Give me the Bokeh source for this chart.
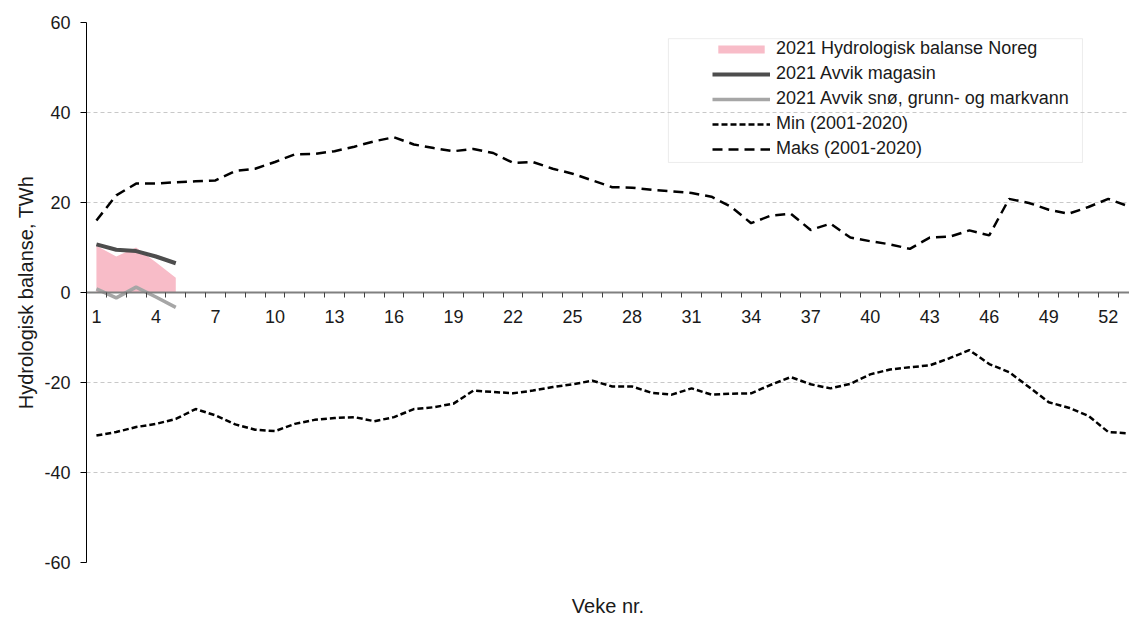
from bokeh.plotting import figure
from bokeh.models import Range1d, FixedTicker, Legend, LegendItem, Title, BoxAnnotation
from bokeh.embed import file_html
from bokeh.resources import INLINE

# ---------------- data ----------------
weeks = list(range(1, 54))
maks = [16.0, 21.6, 24.2, 24.2, 24.5, 24.7, 24.9, 27.0, 27.5, 29.0,
        30.7, 30.8, 31.4, 32.4, 33.6, 34.5, 32.9, 32.1, 31.4, 31.9,
        31.0, 28.8, 29.0, 27.5, 26.4, 24.9, 23.4, 23.3, 22.8, 22.5,
        22.1, 21.3, 19.0, 15.4, 17.1, 17.5, 13.9, 15.3, 12.2, 11.4,
        10.7, 9.7, 12.2, 12.4, 13.8, 12.7, 20.8, 19.9, 18.4, 17.5,
        19.0, 20.8, 19.2]
mins = [-31.8, -31.0, -29.9, -29.2, -28.1, -25.9, -27.3, -29.3, -30.5, -30.8,
        -29.2, -28.3, -27.9, -27.7, -28.6, -27.7, -25.9, -25.5, -24.7, -21.8,
        -22.1, -22.4, -21.8, -21.0, -20.4, -19.6, -20.9, -20.9, -22.3, -22.7,
        -21.3, -22.7, -22.5, -22.4, -20.5, -18.8, -20.4, -21.3, -20.3, -18.2,
        -17.1, -16.6, -16.2, -14.6, -12.8, -15.9, -17.7, -21.0, -24.4, -25.6,
        -27.4, -31.0, -31.3]
weeks_2021 = [1, 2, 3, 4, 5]
balanse_2021 = [10.4, 8.0, 10.0, 6.7, 3.3]
magasin_2021 = [10.7, 9.5, 9.2, 8.0, 6.5]
sno_2021 = [0.8, -1.2, 1.2, -1.0, -3.3]

x_tick_labels = list(range(1, 53, 3))
y_ticks = list(range(-60, 61, 20))

labels = ["2021 Hydrologisk balanse Noreg", "2021 Avvik magasin",
          "2021 Avvik snø, grunn- og markvann", "Min (2001-2020)", "Maks (2001-2020)"]

FONT = "Liberation Sans"

# ---------------- figure ----------------
p = figure(frame_width=1043, frame_height=540,
           x_range=Range1d(0.5, 53.07), y_range=Range1d(-60, 60),
           output_backend="svg", toolbar_location=None, title=None,
           min_border_left=86, min_border_right=0, min_border_top=22,
           min_border_bottom=50)
p.outline_line_color = None
p.background_fill_color = "white"

r_bal = p.varea(x=weeks_2021, y1=0, y2=balanse_2021, fill_color="#F8BCC8")
r_mag = p.line(weeks_2021, magasin_2021, line_color="#4D4D4D", line_width=4)
r_sno = p.line(weeks_2021, sno_2021, line_color="#A6A6A6", line_width=3.5)
r_min = p.line(weeks, mins, line_color="black", line_width=2.5, line_dash="6 3")
r_max = p.line(weeks, maks, line_color="black", line_width=2.5, line_dash="10 6")

# y axis
ya = p.yaxis[0]
ya.ticker = FixedTicker(ticks=y_ticks)
ya.major_label_overrides = {t: str(t) for t in y_ticks}
ya.major_tick_out = 6
ya.major_tick_in = 0
ya.minor_tick_out = 0
ya.minor_tick_in = 0
ya.axis_line_color = "black"
ya.major_tick_line_color = "black"
ya.major_label_text_font = FONT
ya.major_label_text_font_size = "18px"
ya.major_label_text_color = "#1a1a1a"
ya.major_label_standoff = 10
ya.axis_label = "Hydrologisk balanse, TWh"
ya.axis_label_text_font = FONT
ya.axis_label_text_font_size = "20px"
ya.axis_label_text_font_style = "normal"
ya.axis_label_text_color = "#1a1a1a"
ya.axis_label_standoff = 4

# x axis at zero
xa = p.xaxis[0]
xa.fixed_location = 0
xa.ticker = FixedTicker(ticks=x_tick_labels, minor_ticks=[w + 0.5 for w in range(0, 54)])
xa.major_tick_out = 0
xa.major_tick_in = 0
xa.minor_tick_out = 5
xa.minor_tick_in = 0
xa.minor_tick_line_color = "#404040"
xa.axis_line_color = "#808080"
xa.axis_line_width = 2
xa.major_label_text_font = FONT
xa.major_label_text_font_size = "18px"
xa.major_label_text_color = "#1a1a1a"
xa.major_label_standoff = 12

p.xgrid.visible = False
p.ygrid.ticker = FixedTicker(ticks=y_ticks)
p.ygrid.grid_line_color = "#C8C8C8"
p.ygrid.grid_line_dash = "4 3"
p.ygrid.grid_line_width = 1

p.add_layout(Title(text="Veke nr.", align="center", text_font=FONT,
                   text_font_size="20px", text_font_style="normal",
                   text_color="#1a1a1a", standoff=60), "below")

# legend frame and legend
p.add_layout(BoxAnnotation(left=29.83, right=50.7, top=56.4, bottom=28.9,
                           fill_color=None, line_color="#BFBFBF", line_width=1))
legend = Legend(items=[LegendItem(label=labels[0], renderers=[r_bal]),
                       LegendItem(label=labels[1], renderers=[r_mag]),
                       LegendItem(label=labels[2], renderers=[r_sno]),
                       LegendItem(label=labels[3], renderers=[r_min]),
                       LegendItem(label=labels[4], renderers=[r_max])],
                location=(626, 403), glyph_width=58, glyph_height=10,
                label_height=21, label_standoff=6, spacing=4, padding=0, margin=0,
                border_line_color=None, background_fill_alpha=0,
                label_text_font=FONT, label_text_font_size="18px",
                label_text_color="#1a1a1a")
p.add_layout(legend)

open("out.html", "w").write(file_html(p, INLINE))
